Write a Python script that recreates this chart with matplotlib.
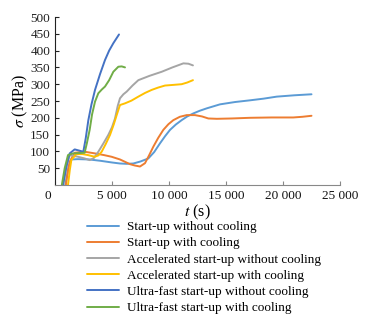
import matplotlib
matplotlib.use("Agg")
import matplotlib.pyplot as plt
from matplotlib.transforms import ScaledTranslation

plt.rcParams['font.family'] = ['Liberation Serif', 'DejaVu Serif']
plt.rcParams['mathtext.fontset'] = 'stix'

labels = [
    "Start-up without cooling",
    "Start-up with cooling",
    "Accelerated start-up without cooling",
    "Accelerated start-up with cooling",
    "Ultra-fast start-up without cooling",
    "Ultra-fast start-up with cooling",
]
colors = ["#5B9BD5", "#ED7D31", "#A5A5A5", "#FFC000", "#4472C4", "#70AD47"]

t_su_nc = [900, 1200, 1430, 2000, 3000, 4000, 5000, 5700, 6300, 6870, 7500, 8185, 8700, 9210, 9650, 10088, 10600, 11110, 11600, 12130, 12700, 13300, 14470, 15800, 17100, 18300, 19450, 21000, 22500]
s_su_nc = [0, 55, 76, 77, 76, 72, 67, 64, 63, 64, 70, 79, 98, 124, 145, 164, 180, 193, 204, 213, 221, 228, 240, 247, 252, 257, 263, 267, 270]

t_su_c = [950, 1150, 1300, 1725, 2600, 3510, 4300, 4970, 5700, 6580, 7000, 7456, 7895, 8250, 8625, 9050, 9500, 9950, 10380, 10950, 11550, 12280, 12900, 13450, 14200, 15500, 17100, 19000, 20900, 21700, 22500]
s_su_c = [0, 45, 70, 96, 99, 94, 89, 84, 76, 62, 58, 55, 65, 88, 114, 140, 164, 181, 193, 203, 208, 208, 204, 198, 197, 198, 200, 201, 201, 203, 206]

t_acc_nc = [700, 1000, 1290, 2020, 2600, 3040, 3400, 3800, 4250, 4675, 5000, 5263, 5500, 5700, 6000, 6290, 6800, 7310, 8300, 9360, 10300, 11260, 11700, 12100]
s_acc_nc = [0, 55, 89, 84, 79, 74, 80, 99, 124, 149, 172, 198, 235, 258, 270, 278, 296, 312, 325, 337, 350, 362, 361, 356]

t_acc_c = [1140, 1300, 1433, 1870, 2400, 2900, 3480, 3800, 4094, 4450, 4825, 5150, 5410, 5700, 6140, 6700, 7310, 7900, 8480, 9050, 9650, 10400, 11110, 11600, 12100]
s_acc_c = [0, 45, 74, 92, 92, 89, 84, 88, 99, 122, 149, 180, 208, 238, 243, 251, 263, 274, 283, 290, 296, 298, 300, 305, 312]

t_uf_nc = [700, 1000, 1287, 1725, 2164, 2485, 2700, 2925, 3200, 3510, 3950, 4386, 4750, 5117, 5614]
s_uf_nc = [0, 55, 94, 106, 102, 99, 140, 193, 240, 283, 330, 372, 400, 422, 448]

t_uf_c = [600, 850, 1140, 1580, 2100, 2600, 2800, 3040, 3250, 3510, 3800, 4100, 4386, 4750, 5117, 5555, 5850, 6140]
s_uf_c = [0, 50, 89, 94, 95, 96, 125, 164, 210, 248, 273, 284, 293, 312, 337, 352, 353, 350]

series_t = [t_su_nc, t_su_c, t_acc_nc, t_acc_c, t_uf_nc, t_uf_c]
series_s = [s_su_nc, s_su_c, s_acc_nc, s_acc_c, s_uf_nc, s_uf_c]

x_ticks = [0, 5000, 10000, 15000, 20000, 25000]
x_ticklabels = ["0", "5 000", "10 000", "15 000", "20 000", "25 000"]
y_ticks = [50, 100, 150, 200, 250, 300, 350, 400, 450, 500]

fig = plt.figure(figsize=(3.8, 3.24), dpi=100)
ax = fig.add_axes([55/380, 1 - 185/324, (340 - 55)/380, (185 - 17)/324])

for t, s, c, lab in zip(series_t, series_s, colors, labels):
    ax.plot(t, s, color=c, lw=1.4, label=lab, solid_joinstyle='round', solid_capstyle='round')

ax.set_xlim(0, 25000)
ax.set_ylim(0, 500)
ax.set_xticks(x_ticks)
ax.set_xticklabels(x_ticklabels)
ax.set_yticks(y_ticks)
ax.tick_params(axis='both', direction='in', labelsize=9.5, length=3, width=0.8, colors='#222222')
ax.tick_params(axis='x', colors='#888888', labelcolor='#111111')
for sp in ['top', 'right']:
    ax.spines[sp].set_visible(False)
ax.spines['left'].set_color('#222222')
ax.spines['bottom'].set_color('#888888')

lbl0 = ax.get_xticklabels()[0]
lbl0.set_transform(lbl0.get_transform() + ScaledTranslation(-7/100, 0, fig.dpi_scale_trans))

ax.set_ylabel(r"$\sigma$ (MPa)", fontsize=11.5, labelpad=0)
ax.set_xlabel(r"$t$ (s)", fontsize=11.5, labelpad=1)

fig.legend(loc='upper left', bbox_to_anchor=(87/380, 1 - 221/324), frameon=False,
           fontsize=9.5, handlelength=2.4, handletextpad=0.65, labelspacing=0.3,
           borderpad=0, borderaxespad=0)

fig.savefig("out.png", dpi=100)
